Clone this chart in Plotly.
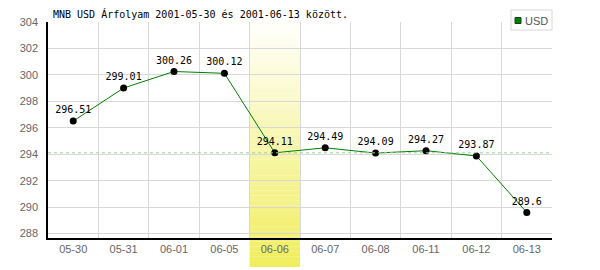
import plotly.graph_objects as go

# ---- data ----
dates = ["05-30", "05-31", "06-01", "06-05", "06-06", "06-07", "06-08", "06-11", "06-12", "06-13"]
usd = [296.51, 299.01, 300.26, 300.12, 294.11, 294.49, 294.09, 294.27, 293.87, 289.6]
y_ticks = [288, 290, 292, 294, 296, 298, 300, 302, 304]
highlight_date = "06-06"
title_text = "MNB USD Árfolyam 2001-05-30 és 2001-06-13 között."
series_name = "USD"

hi_idx = dates.index(highlight_date)
hi_val = usd[hi_idx]

W, H = 600, 270
ML, MR, MT, MB = 48, 48, 22, 32
plot_h = H - MT - MB

fig = go.Figure()

fig.add_trace(go.Scatter(
    x=dates, y=usd, mode="lines+markers+text",
    text=[f"{v:g}" for v in usd], textposition="top center",
    textfont=dict(family="DejaVu Sans Mono", size=10, color="#000000"),
    line=dict(color="#008000", width=1),
    marker=dict(color="#000000", size=7),
    showlegend=False, cliponaxis=False,
))

shapes = []
# gradient highlight band (white top -> yellow bottom), extends below axis
y_top = 1.0
y_bot = -(267 - (H - MB)) / plot_h
N = 48
c0 = (255, 255, 252)
c1 = (240, 237, 92)
for i in range(N):
    t = (i + 0.5) / N
    col = tuple(round(c0[k] + (c1[k] - c0[k]) * t) for k in range(3))
    ya = y_top + (y_bot - y_top) * i / N
    yb = y_top + (y_bot - y_top) * (i + 1) / N
    shapes.append(dict(type="rect", xref="x", yref="paper",
                       x0=hi_idx - 0.5, x1=hi_idx + 0.5, y0=yb, y1=ya,
                       fillcolor="rgb(%d,%d,%d)" % col, line=dict(width=0),
                       layer="below"))

# reference dashed line at highlighted value
shapes.append(dict(type="line", xref="paper", yref="y", x0=0, x1=1,
                   y0=hi_val, y1=hi_val,
                   line=dict(color="#9fcf9f", width=1, dash="3px,3px"),
                   layer="above"))

# legend box (manual, small)
shapes.append(dict(type="rect", xref="paper", yref="paper",
                   xsizemode="pixel", ysizemode="pixel", xanchor=1, yanchor=1,
                   x0=-41, x1=0, y0=-8, y1=12,
                   fillcolor="#ffffff", line=dict(color="#d8d8d8", width=1)))
shapes.append(dict(type="rect", xref="paper", yref="paper",
                   xsizemode="pixel", ysizemode="pixel", xanchor=1, yanchor=1,
                   x0=-37, x1=-31, y0=-1.5, y1=4.5,
                   fillcolor="#008000", line=dict(color="#1f3f1f", width=1)))

annotations = [dict(text=series_name, xref="paper", yref="paper",
                    x=1, y=1, xanchor="left", yanchor="middle",
                    xshift=-29, yshift=1.5, showarrow=False,
                    font=dict(family="Liberation Sans Narrow, Liberation Sans", size=11, color="#555555"))]

fig.update_layout(
    width=W, height=H,
    margin=dict(l=ML, r=MR, t=MT, b=MB, pad=0),
    paper_bgcolor="#ffffff", plot_bgcolor="#ffffff",
    title=dict(text=title_text, x=53 / W, xref="container", xanchor="left",
               y=1 - 14 / H, yref="container", yanchor="middle",
               font=dict(family="DejaVu Sans Mono", size=10, color="#000000")),
    shapes=shapes, annotations=annotations,
    xaxis=dict(type="category", range=[-0.5, len(dates) - 0.5],
               tickson="boundaries", showgrid=True, gridcolor="#d8d8d8", gridwidth=1,
               showline=True, linecolor="#000000", linewidth=1.5,
               ticks="", zeroline=False, fixedrange=True,
               tickfont=dict(family="Liberation Sans", size=11, color="#666666")),
    yaxis=dict(range=[287.67, 304], tickvals=y_ticks,
               showgrid=True, gridcolor="#d8d8d8", gridwidth=1,
               showline=True, linecolor="#000000", linewidth=1.5,
               ticks="", ticklabelstandoff=6, zeroline=False,
               tickfont=dict(family="Liberation Sans", size=11, color="#666666")),
    showlegend=False,
)

fig.write_html("out.html")
